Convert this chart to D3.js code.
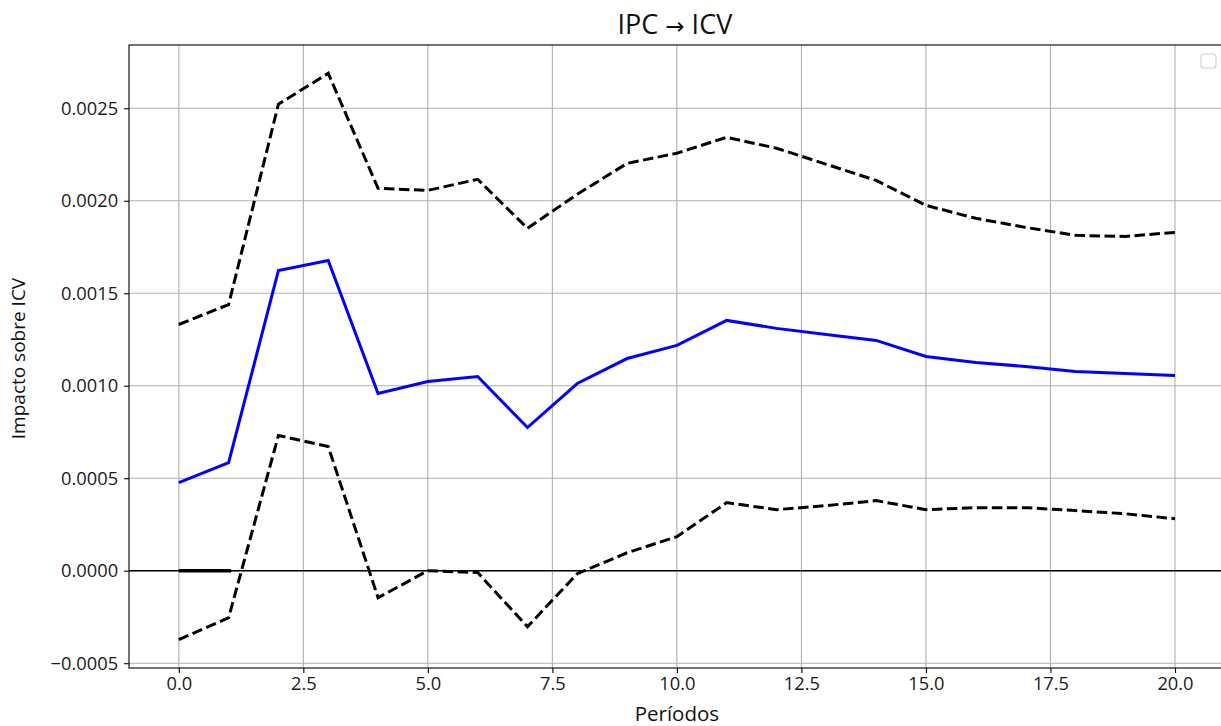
<!DOCTYPE html>
<html><head><meta charset="utf-8">
<script src="https://cdn.jsdelivr.net/npm/d3@7"></script>
<style>body{margin:0;background:#fff}svg{display:block;font-family:"Open Sans",sans-serif}</style>
</head><body><svg id="c" width="1221" height="726"></svg>
<script>
const periods = d3.range(0, 21);
const irf = [0.000476,0.000584,0.001623,0.001677,0.000958,0.001023,0.00105,0.000774,0.001012,0.001147,0.001218,0.001353,0.00131,0.001277,0.001245,0.001158,0.001126,0.001104,0.001077,0.001066,0.001055];
const upper = [0.001331,0.001439,0.002522,0.002689,0.002067,0.002056,0.002116,0.001851,0.002035,0.002202,0.002257,0.002343,0.002284,0.002197,0.00211,0.001975,0.001905,0.001856,0.001813,0.001807,0.001829];
const lower = [-0.000373,-0.000254,0.000731,0.000671,-0.000146,0.0,-0.00001,-0.000303,-0.000016,0.000097,0.000184,0.000368,0.00033,0.000352,0.000379,0.00033,0.000341,0.000341,0.000325,0.000308,0.000281];
const zeroSeg = [0, 1.05];
const xTicks = [0,2.5,5,7.5,10,12.5,15,17.5,20];
const yTicks = [-0.0005,0,0.0005,0.001,0.0015,0.002,0.0025];

const svg = d3.select("#c");
const L=129, R=1224.8, T=45, B=668;
const x = d3.scaleLinear().domain([-1,21]).range([L,R]);
const y = d3.scaleLinear().domain([-0.000526,0.002842]).range([B,T]);

// grid
svg.append("g").selectAll("line").data(xTicks).join("line")
  .attr("x1",d=>x(d)).attr("x2",d=>x(d)).attr("y1",T).attr("y2",B)
  .attr("stroke","#b0b0b0").attr("stroke-width",1.1);
svg.append("g").selectAll("line").data(yTicks).join("line")
  .attr("x1",L).attr("x2",R).attr("y1",d=>y(d)).attr("y2",d=>y(d))
  .attr("stroke","#b0b0b0").attr("stroke-width",1.1);

// zero line
svg.append("line").attr("x1",L).attr("x2",R).attr("y1",y(0)).attr("y2",y(0))
  .attr("stroke","#000").attr("stroke-width",1.4);
svg.append("line").attr("x1",x(zeroSeg[0])).attr("x2",x(zeroSeg[1])).attr("y1",y(0)).attr("y2",y(0))
  .attr("stroke","#000").attr("stroke-width",3.6);

const line = d3.line().x((d,i)=>x(periods[i])).y(d=>y(d));
svg.append("path").datum(upper).attr("d",line).attr("fill","none")
  .attr("stroke","#000").attr("stroke-width",3).attr("stroke-dasharray","10.5,4.5");
svg.append("path").datum(lower).attr("d",line).attr("fill","none")
  .attr("stroke","#000").attr("stroke-width",3).attr("stroke-dasharray","10.5,4.5");
svg.append("path").datum(irf).attr("d",line).attr("fill","none")
  .attr("stroke","#0000ff").attr("stroke-width",3);

// axes
const xa = svg.append("g").attr("transform",`translate(0,${B})`)
  .call(d3.axisBottom(x).tickValues(xTicks).tickFormat(d3.format(".1f")).tickSizeOuter(0).tickSize(4.9).tickPadding(4));
const ya = svg.append("g").attr("transform",`translate(${L},0)`)
  .call(d3.axisLeft(y).tickValues(yTicks).tickFormat(d=>d3.format(".4f")(d).replace("-","\u2212")).tickSizeOuter(0).tickSize(4.9).tickPadding(6));
[xa,ya].forEach(a=>{
  a.select(".domain").remove();
  a.selectAll(".tick line").attr("stroke","#000").attr("stroke-width",1.1);
  a.selectAll(".tick text").attr("font-size",18.3).attr("fill","#1a1a1a").attr("font-family","Open Sans");
});

// frame
svg.append("rect").attr("x",L).attr("y",T).attr("width",R-L).attr("height",B-T)
  .attr("fill","none").attr("stroke","#000").attr("stroke-width",1.1);

// legend (empty)
svg.append("rect").attr("x",1201).attr("y",54).attr("width",15).attr("height",14).attr("rx",3)
  .attr("fill","#fff").attr("stroke","#d0d0d0").attr("stroke-width",1.1);

// labels
const title = svg.append("text").attr("x",(L+R)/2 - 2).attr("y",34).attr("text-anchor","middle")
  .attr("font-size",27).attr("fill","#111");
title.append("tspan").text("IPC ");
title.append("tspan").attr("font-family","DejaVu Sans").attr("font-size",23).text("\u2192");
title.append("tspan").text(" ICV");
svg.append("text").attr("x",(L+R)/2).attr("y",721).attr("text-anchor","middle")
  .attr("font-size",20.5).attr("fill","#111").text("Períodos");
svg.append("text").attr("transform",`translate(25,${(T+B)/2 + 2}) rotate(-90)`).attr("text-anchor","middle")
  .attr("font-size",19).attr("fill","#111").text("Impacto sobre ICV");
</script></body></html>
